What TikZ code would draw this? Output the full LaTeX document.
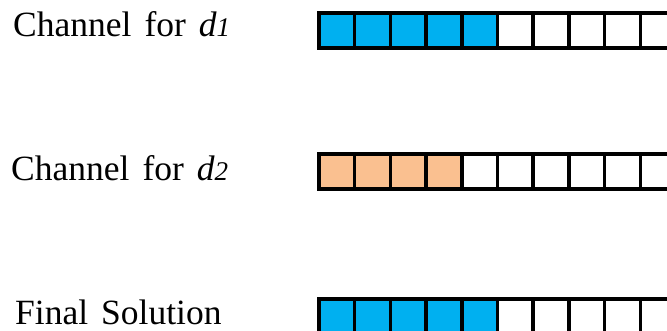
\documentclass[tikz,border=0pt]{standalone}
\usepackage{fontspec}
\setmainfont{Liberation Serif}
\definecolor{cellblue}{HTML}{00B0F0}
\definecolor{cellorange}{HTML}{FAC090}
\newcommand\subidx[1]{{\fontsize{27}{30}\selectfont\itshape #1}}
\newcommand\labelfont{\fontsize{35.5}{40}\selectfont\spaceskip=13pt plus 2pt\relax}
\begin{document}
\begin{tikzpicture}[x=1pt,y=1pt,
  cell/.style={draw=black,line width=3.5pt},
  rowlabel/.style={anchor=base west,inner sep=0pt,font=\labelfont}]
\useasboundingbox (0,0) rectangle (667,331);
\clip (0,0) rectangle (667,331);

% row labels
\node[rowlabel] (l1) at (13,294) {Channel for \textit{d}\subidx{1}};
\node[rowlabel] (l2) at (11,150) {Channel for \textit{d}\subidx{2}};
\node[rowlabel] (l3) at (15,6)   {Final Solution};

% channel strips: filled cells first, then the grid on top
\foreach \top/\n/\col in {318/5/cellblue, 177/4/cellorange, 32/5/cellblue} {
  \fill[\col] (319,\top) rectangle ({319+\n*35.7},{\top-35});
  \draw[cell] (319,\top) rectangle (690,{\top-35});
  \foreach \i in {1,...,10}
    \draw[cell] ({319+\i*35.7},\top) -- ++(0,-35);
}
\end{tikzpicture}
\end{document}
